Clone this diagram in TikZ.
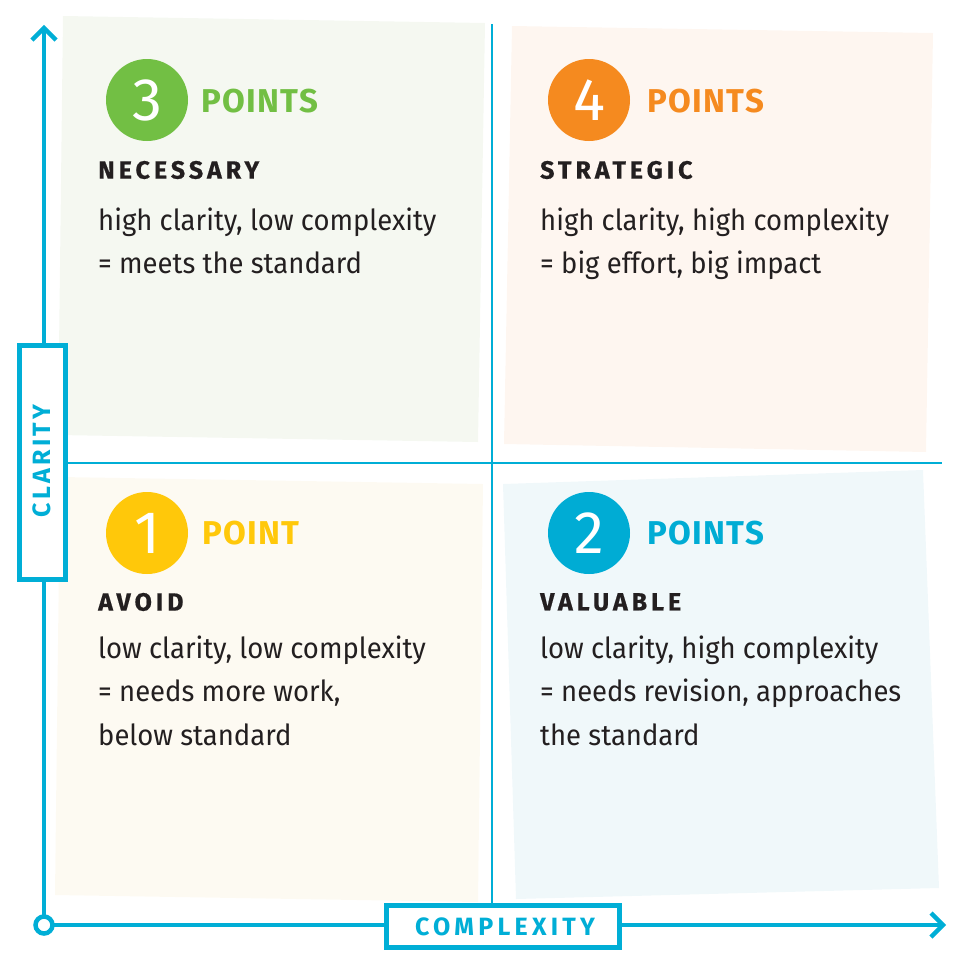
\documentclass[tikz,border=0pt]{standalone}
\usepackage{fontspec}
\setmainfont{Fira Sans}
\newfontfamily\bodyfont[FakeStretch=0.947]{Fira Sans}
\newfontfamily\headfont[LetterSpace=16, FakeBold=0.6]{Fira Sans}
\newfontfamily\axisfont[LetterSpace=17]{Fira Sans}
\newfontfamily\axisvfont[LetterSpace=13]{Fira Sans}
\newfontfamily\ptsfont[LetterSpace=4]{Fira Sans}
\newfontfamily\numfont{Fira Sans}
\definecolor{axisblue}{RGB}{0,174,214}
\definecolor{qgreen}{RGB}{114,191,68}
\definecolor{qorange}{RGB}{245,138,31}
\definecolor{qyellow}{RGB}{255,200,10}
\definecolor{qblue}{RGB}{0,172,212}
\definecolor{ink}{RGB}{35,31,32}
\definecolor{bgtl}{RGB}{245,248,241}
\definecolor{bgtr}{RGB}{254,246,240}
\definecolor{bgbl}{RGB}{253,250,242}
\definecolor{bgbr}{RGB}{240,248,250}
\tikzset{
  axisline/.style={draw=axisblue, line width=4.5pt},
  divline/.style={draw=axisblue, line width=1.5pt},
  numcirc/.style={circle, minimum size=82pt, inner sep=0pt, text=white,
    font=\numfont\fontsize{60}{60}\selectfont},
  ptslabel/.style={anchor=west, inner sep=0pt, font=\ptsfont\bfseries\fontsize{33}{33}\selectfont},
  headlabel/.style={anchor=west, inner sep=0pt, text=ink, font=\headfont\bfseries\fontsize{25}{25}\selectfont},
  bodyline/.style={anchor=base west, inner sep=0pt, text=ink, font=\bodyfont\fontsize{29}{29}\selectfont},
  axisbox/.style={draw=axisblue, line width=5pt, fill=white, inner sep=0pt, text=axisblue,
    font=\axisfont\bfseries\fontsize{25}{25}\selectfont}
}
\begin{document}
\begin{tikzpicture}[x=1pt, y=-1pt]
\useasboundingbox (0,0) rectangle (964,954);
% quadrant backgrounds
\fill[bgtl] (63,16) -- (485,23) -- (478,442) -- (58,435) -- cycle;
\fill[bgtr] (512,26) -- (933,33) -- (926,452) -- (504,444) -- cycle;
\fill[bgbl] (60,477) -- (483,484) -- (478,902) -- (55,895) -- cycle;
\fill[bgbr] (503,484) -- (923,470) -- (939,888) -- (516,899) -- cycle;
% coordinates
\coordinate (orig) at (44,925);
\coordinate (ytip) at (44,28);
\coordinate (xtip) at (943,925);
\coordinate (vtop) at (492,24);
\coordinate (vbot) at (492,905);
\coordinate (hleft) at (44,463);
\coordinate (hright) at (942,463);
% dividers
\draw[divline] (vtop) -- (vbot);
\draw[divline] (hleft) -- (hright);
% axes
\draw[axisline] (orig) -- (ytip);
\draw[axisline] (orig) -- (xtip);
\draw[axisline, miter limit=10] (32,40) -- (ytip) -- (56,40);
\draw[axisline, miter limit=10] (931,913) -- (xtip) -- (931,937);
\draw[axisline, fill=white] (orig) circle[radius=8.5pt];
% axis label boxes
\node[axisbox, minimum width=46pt, minimum height=234pt] (clar) at (42.5,462.5) {};
\node[axisbox, minimum width=233pt, minimum height=42pt] (comp) at (503,926.5) {};
\node[rotate=90, text=axisblue, inner sep=0pt, font=\axisvfont\bfseries\fontsize{25}{25}\selectfont] (clart) at (42,461) {CLARITY};
\node[text=axisblue, inner sep=0pt, font=\axisfont\bfseries\fontsize{25}{25}\selectfont] (compt) at (505,927) {COMPLEXITY};
% quadrant 3
\node[numcirc, fill=qgreen] (c3) at (147,100) {3};
\node[ptslabel, text=qgreen] (p3) at (201,101) {POINTS};
\node[headlabel] (h3) at (98,170) {NECESSARY};
\node[bodyline] (b3a) at (98,230) {high clarity, low complexity};
\node[bodyline] (b3b) at (98,273) {= meets the standard};
% quadrant 4
\node[numcirc, fill=qorange] (c4) at (589,100) {4};
\node[ptslabel, text=qorange] (p4) at (647,101) {POINTS};
\node[headlabel] (h4) at (540,170) {STRATEGIC};
\node[bodyline] (b4a) at (540,230) {high clarity, high complexity};
\node[bodyline] (b4b) at (540,273) {= big effort, big impact};
% quadrant 1
\node[numcirc, fill=qyellow] (c1) at (147,533) {1};
\node[ptslabel, text=qyellow] (p1) at (202,533) {POINT};
\node[headlabel] (h1) at (98,602) {AVOID};
\node[bodyline] (b1a) at (98,658) {low clarity, low complexity};
\node[bodyline] (b1b) at (98,701) {= needs more work,};
\node[bodyline] (b1c) at (98,745) {below standard};
% quadrant 2
\node[numcirc, fill=qblue] (c2) at (589,533) {2};
\node[ptslabel, text=qblue] (p2) at (647,533) {POINTS};
\node[headlabel] (h2) at (540,602) {VALUABLE};
\node[bodyline] (b2a) at (540,658) {low clarity, high complexity};
\node[bodyline] (b2b) at (540,701) {= needs revision, approaches};
\node[bodyline] (b2c) at (540,745) {the standard};
\end{tikzpicture}
\end{document}
